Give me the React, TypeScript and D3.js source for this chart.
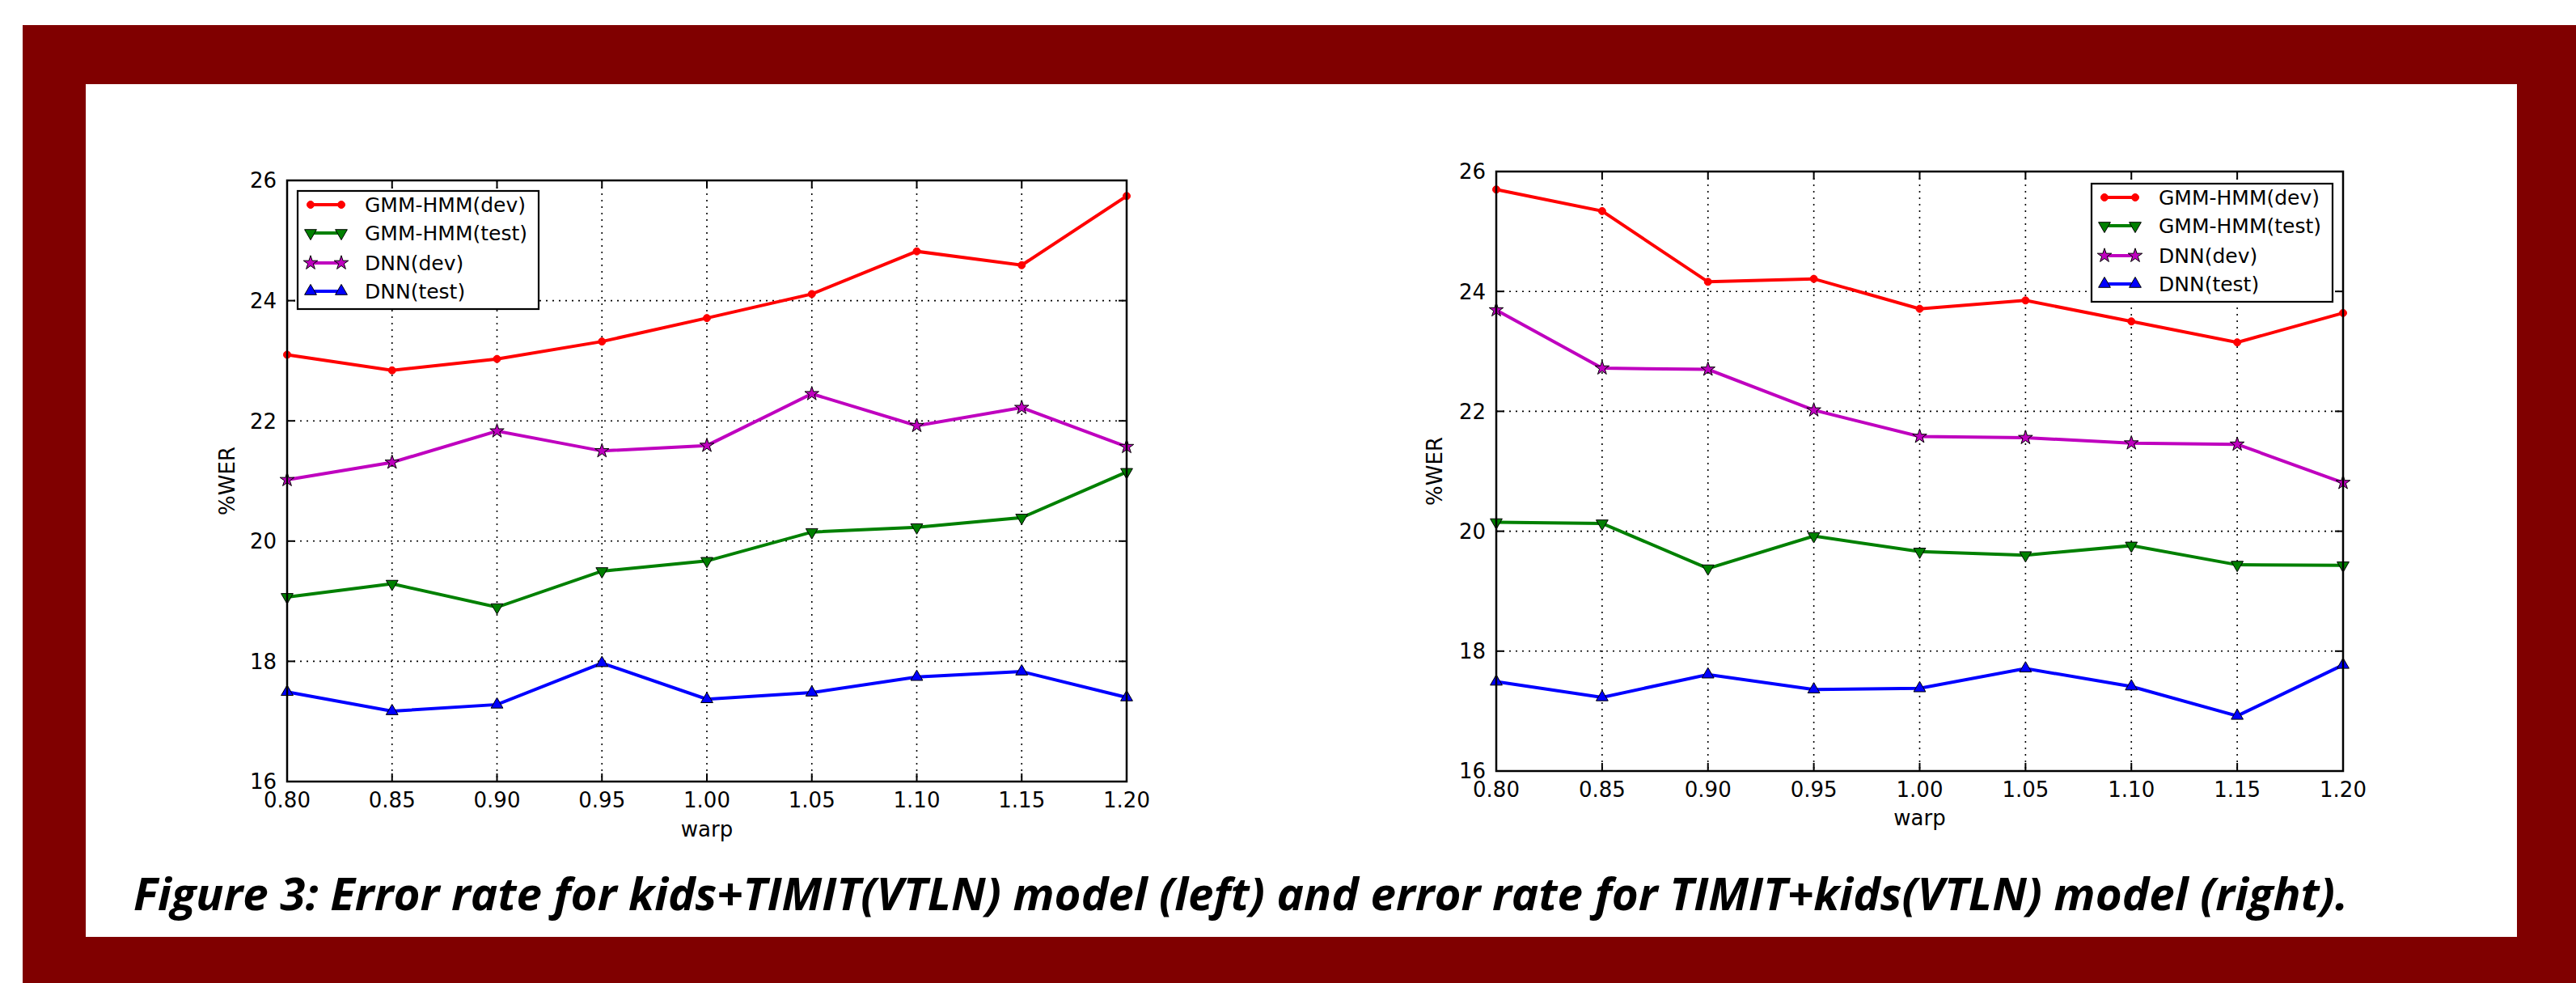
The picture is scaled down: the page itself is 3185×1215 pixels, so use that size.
import * as d3 from "d3";

const WARPS = [0.8, 0.85, 0.9, 0.95, 1.0, 1.05, 1.1, 1.15, 1.2];
const X_TICKS = ["0.80", "0.85", "0.90", "0.95", "1.00", "1.05", "1.10", "1.15", "1.20"];
const Y_TICKS = [16, 18, 20, 22, 24, 26];

const SERIES_NAMES = ["GMM-HMM(dev)", "GMM-HMM(test)", "DNN(dev)", "DNN(test)"];

// left panel: kids+TIMIT(VTLN)
const LEFT_GMM_DEV = [23.1, 22.84, 23.03, 23.32, 23.71, 24.11, 24.82, 24.59, 25.74];
const LEFT_GMM_TEST = [19.07, 19.29, 18.9, 19.5, 19.67, 20.15, 20.23, 20.39, 21.15];
const LEFT_DNN_DEV = [21.02, 21.31, 21.83, 21.5, 21.59, 22.45, 21.92, 22.22, 21.57];
const LEFT_DNN_TEST = [17.49, 17.17, 17.28, 17.97, 17.37, 17.48, 17.74, 17.83, 17.4];

// right panel: TIMIT+kids(VTLN)
const RIGHT_GMM_DEV = [25.7, 25.34, 24.16, 24.21, 23.71, 23.85, 23.5, 23.15, 23.64];
const RIGHT_GMM_TEST = [20.15, 20.13, 19.38, 19.92, 19.66, 19.6, 19.76, 19.44, 19.43];
const RIGHT_DNN_DEV = [23.69, 22.72, 22.7, 22.02, 21.58, 21.56, 21.47, 21.45, 20.81];
const RIGHT_DNN_TEST = [17.49, 17.23, 17.61, 17.36, 17.38, 17.71, 17.41, 16.92, 17.77];

const CAPTION =
  "Figure 3: Error rate for kids+TIMIT(VTLN) model (left) and error rate for TIMIT+kids(VTLN) model (right).";

const COLORS = ["#ff0000", "#008000", "#bf00bf", "#0000ff"];
const MARKERS = ["dot", "tri-down", "star", "tri-up"];
const FONT = "'DejaVu Sans', sans-serif";

type Panel = {
  x0: number;
  x1: number;
  y0: number;
  y1: number;
  series: number[][];
  legendRight: boolean;
  xLabelY: number;
  yLabelX: number;
};

const triUp = d3.symbol(d3.symbolTriangle, 95)()!;
const star = d3.symbol(d3.symbolStar, 95)()!;

function Marker({ kind, x, y, color }: { kind: string; x: number; y: number; color: string }) {
  if (kind === "dot") {
    return <circle cx={x} cy={y} r={4.5} fill={color} stroke={color} strokeWidth={1} />;
  }
  const d = kind === "star" ? star : triUp;
  const rot = kind === "tri-down" ? 180 : 0;
  return (
    <path
      d={d}
      transform={`translate(${x},${y}) rotate(${rot})`}
      fill={color}
      stroke="#000"
      strokeWidth={1}
    />
  );
}

function Chart({ p }: { p: Panel }) {
  const x = d3.scaleLinear().domain([0.8, 1.2]).range([p.x0, p.x1]);
  const y = d3.scaleLinear().domain([16, 26]).range([p.y1, p.y0]);
  const line = d3
    .line<number>()
    .x((_, i) => x(WARPS[i]))
    .y((d) => y(d));

  const lw = 298;
  const lh = 146;
  const lx = p.legendRight ? p.x1 - 13 - lw : p.x0 + 13;
  const ly = p.legendRight ? p.y0 + 15 : p.y0 + 13;
  const rowY = [17, 52, 89, 124];

  return (
    <g>
      {/* grid */}
      {WARPS.slice(1, -1).map((w) => (
        <line
          key={"gx" + w}
          x1={x(w)}
          x2={x(w)}
          y1={p.y0}
          y2={p.y1}
          stroke="#000"
          strokeWidth={1.6}
          strokeDasharray="2,6"
        />
      ))}
      {Y_TICKS.slice(1, -1).map((t) => (
        <line
          key={"gy" + t}
          x1={p.x0}
          x2={p.x1}
          y1={y(t)}
          y2={y(t)}
          stroke="#000"
          strokeWidth={1.6}
          strokeDasharray="2,6"
        />
      ))}
      {/* ticks (inward, all sides) */}
      {WARPS.map((w) => (
        <g key={"tx" + w}>
          <line x1={x(w)} x2={x(w)} y1={p.y1} y2={p.y1 - 10} stroke="#000" strokeWidth={2} />
          <line x1={x(w)} x2={x(w)} y1={p.y0} y2={p.y0 + 10} stroke="#000" strokeWidth={2} />
        </g>
      ))}
      {Y_TICKS.map((t) => (
        <g key={"ty" + t}>
          <line x1={p.x0} x2={p.x0 + 10} y1={y(t)} y2={y(t)} stroke="#000" strokeWidth={2} />
          <line x1={p.x1} x2={p.x1 - 10} y1={y(t)} y2={y(t)} stroke="#000" strokeWidth={2} />
        </g>
      ))}
      {/* series */}
      {p.series.map((vals, si) => (
        <g key={"s" + si}>
          <path d={line(vals)!} fill="none" stroke={COLORS[si]} strokeWidth={4} />
          {vals.map((v, i) => (
            <Marker key={i} kind={MARKERS[si]} x={x(WARPS[i])} y={y(v)} color={COLORS[si]} />
          ))}
        </g>
      ))}
      {/* frame */}
      <rect
        x={p.x0}
        y={p.y0}
        width={p.x1 - p.x0}
        height={p.y1 - p.y0}
        fill="none"
        stroke="#000"
        strokeWidth={2.5}
      />
      {/* tick labels */}
      {WARPS.map((w, i) => (
        <text
          key={"lx" + w}
          x={x(w)}
          y={p.y1 + 32}
          textAnchor="middle"
          fontFamily={FONT}
          fontSize={26}
          fill="#000"
        >
          {X_TICKS[i]}
        </text>
      ))}
      {Y_TICKS.map((t) => (
        <text
          key={"ly" + t}
          x={p.x0 - 13}
          y={y(t)}
          dy="0.36em"
          textAnchor="end"
          fontFamily={FONT}
          fontSize={26}
          fill="#000"
        >
          {t}
        </text>
      ))}
      <text
        x={(p.x0 + p.x1) / 2}
        y={p.xLabelY}
        textAnchor="middle"
        fontFamily={FONT}
        fontSize={26}
        fill="#000"
      >
        warp
      </text>
      <text
        transform={`translate(${p.yLabelX},${(p.y0 + p.y1) / 2}) rotate(-90)`}
        textAnchor="middle"
        dy="0.36em"
        fontFamily={FONT}
        fontSize={26}
        fill="#000"
      >
        %WER
      </text>
      {/* legend */}
      <g transform={`translate(${lx},${ly})`}>
        <rect width={lw} height={lh} fill="#fff" stroke="#000" strokeWidth={2.2} />
        {SERIES_NAMES.map((name, si) => (
          <g key={name} transform={`translate(0,${rowY[si]})`}>
            <line x1={16} x2={54} y1={0} y2={0} stroke={COLORS[si]} strokeWidth={4} />
            <Marker kind={MARKERS[si]} x={16} y={0} color={COLORS[si]} />
            <Marker kind={MARKERS[si]} x={54} y={0} color={COLORS[si]} />
            <text x={83} y={0} dy="0.36em" fontFamily={FONT} fontSize={25} fill="#000">
              {name}
            </text>
          </g>
        ))}
      </g>
    </g>
  );
}

export default function App() {
  const left: Panel = {
    x0: 355,
    x1: 1393,
    y0: 223,
    y1: 966,
    series: [LEFT_GMM_DEV, LEFT_GMM_TEST, LEFT_DNN_DEV, LEFT_DNN_TEST],
    legendRight: false,
    xLabelY: 1034,
    yLabelX: 281,
  };
  const right: Panel = {
    x0: 1850,
    x1: 2897,
    y0: 212,
    y1: 953,
    series: [RIGHT_GMM_DEV, RIGHT_GMM_TEST, RIGHT_DNN_DEV, RIGHT_DNN_TEST],
    legendRight: true,
    xLabelY: 1020,
    yLabelX: 1774,
  };

  return (
    <div style={{ position: "absolute", left: 0, top: 0 }}>
      <svg width={3185} height={1215} style={{ display: "block" }}>
        <rect width={3185} height={1215} fill="#fff" />
        <rect x={28} y={31} width={3157} height={1184} fill="#800000" />
        <rect x={106} y={104} width={3006} height={1054} fill="#fff" />
        <Chart p={left} />
        <Chart p={right} />
        <text
          x={165}
          y={1125}
          fontFamily="'Open Sans', 'Noto Sans', sans-serif"
          fontWeight="bold"
          fontStyle="italic"
          fontSize={56}
          textLength={2738}
          lengthAdjust="spacingAndGlyphs"
          fill="#000"
        >
          {CAPTION}
        </text>
      </svg>
    </div>
  );
}
